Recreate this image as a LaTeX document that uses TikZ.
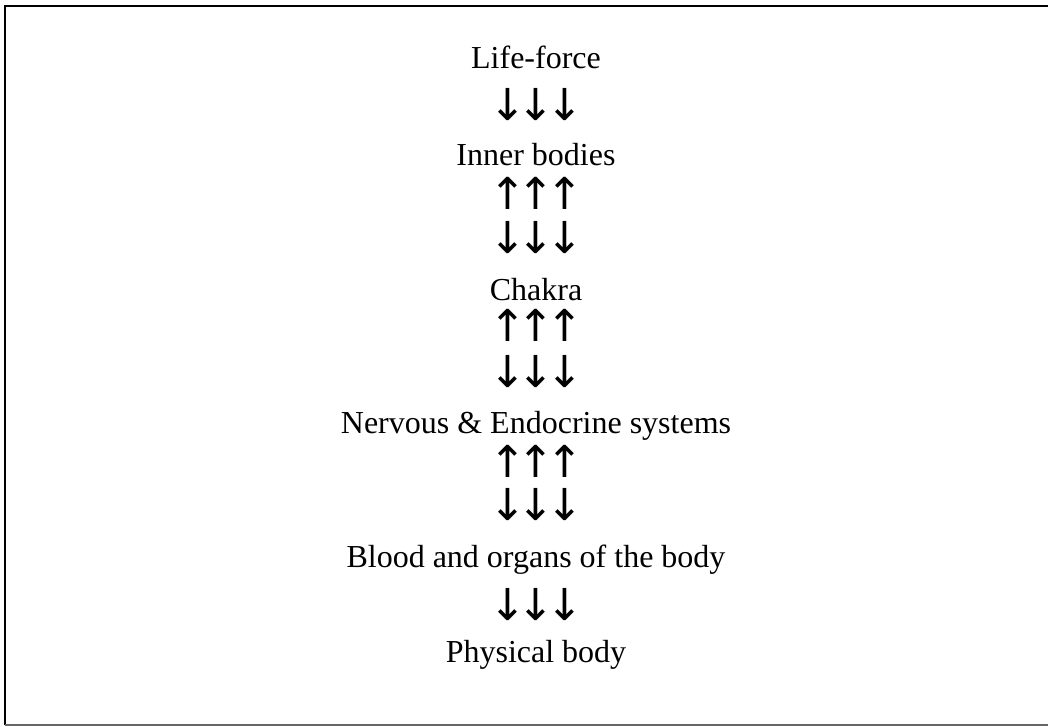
\documentclass[tikz,border=0pt]{standalone}
\usepackage{fontspec}
\setmainfont{Liberation Serif}
\newfontfamily\arrowfont{DejaVu Sans}
\usetikzlibrary{positioning}

% three arrow glyphs set close together
\newcommand{\triplet}[1]{#1\kern-8.4pt#1\kern-8.4pt#1}

\begin{document}
\begin{tikzpicture}[
    x=1pt, y=-1pt,
    % Node Styles
    level/.style={font=\fontsize{32}{38}\selectfont, inner sep=0pt, anchor=base},
    flow/.style={font=\arrowfont\fontsize{44}{50}\selectfont, inner sep=0pt},
    frameline/.style={line width=2.5pt, black},
    baseline/.style={line width=1.5pt, black!60}
]
\useasboundingbox (0,0) rectangle (1048,726);

% =========================================================
% FRAME
% =========================================================
\coordinate (topRight) at (1052,6);
\coordinate (topLeft) at (5,6);
\coordinate (bottomLeft) at (5,725);
\coordinate (bottomRight) at (1052,725);
\draw[frameline] (topRight) -- (topLeft) -- (bottomLeft);
\draw[baseline] (bottomLeft) -- (bottomRight);

% =========================================================
% LEVELS
% =========================================================
\node[level] (lifeForce) at (536,68) {Life-force};
\node[flow] (downA) at (536,105) {\triplet{↓}};

\node[level] (innerBodies) at (536,165) {Inner bodies};
\node[flow] (upA) at (536,193) {\triplet{↑}};
\node[flow] (downB) at (536,238) {\triplet{↓}};

\node[level] (chakra) at (536,300) {Chakra};
\node[flow] (upB) at (536,325) {\triplet{↑}};
\node[flow] (downC) at (536,372) {\triplet{↓}};

\node[level] (nervous) at (536,433) {Nervous \& Endocrine systems};
\node[flow] (upC) at (536,461) {\triplet{↑}};
\node[flow] (downD) at (536,505) {\triplet{↓}};

\node[level] (blood) at (536,567) {Blood and organs of the body};
\node[flow] (downE) at (536,605) {\triplet{↓}};

\node[level] (physical) at (536,662) {Physical body};

\end{tikzpicture}
\end{document}
